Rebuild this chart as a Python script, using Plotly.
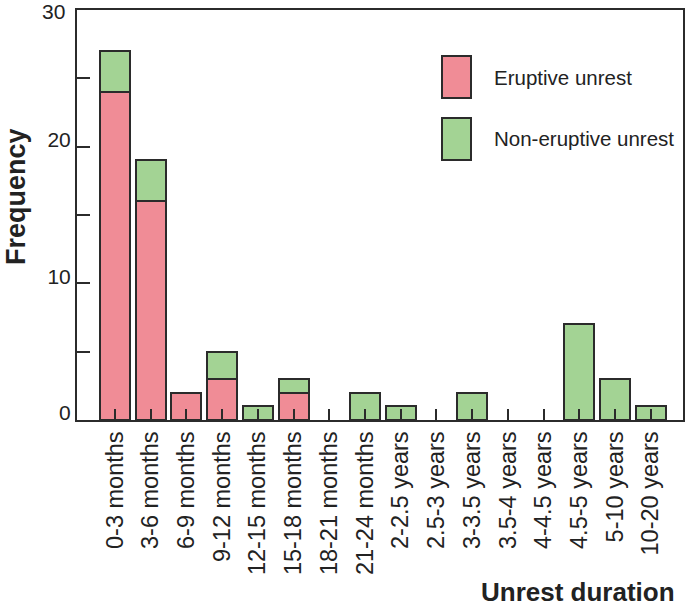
import plotly.graph_objects as go

categories = ["0-3 months", "3-6 months", "6-9 months", "9-12 months", "12-15 months",
              "15-18 months", "18-21 months", "21-24 months", "2-2.5 years", "2.5-3 years",
              "3-3.5 years", "3.5-4 years", "4-4.5 years", "4.5-5 years", "5-10 years",
              "10-20 years"]
eruptive = [24, 16, 2, 3, 0, 2, 0, 0, 0, 0, 0, 0, 0, 0, 0, 0]
non_eruptive = [3, 3, 0, 2, 1, 1, 0, 2, 1, 0, 2, 0, 0, 7, 3, 1]
y_ticks = [0, 10, 20]
y_top = 30

PINK = "#F08C96"
GREEN = "#A3D394"
EDGE = "#2b2b2b"
TXT = "#222"
FONT = "Liberation Sans, Arial, sans-serif"

W, H = 685, 612
PL, PT, PR, PB = 77, 10, 683, 420   # plot box in page pixels

def nz(v):
    return [x if x else None for x in v]

fig = go.Figure()
fig.add_trace(go.Bar(x=categories, y=nz(eruptive), name="Eruptive unrest",
                     marker=dict(color=PINK, line=dict(color=EDGE, width=2)),
                     width=0.84, showlegend=False))
fig.add_trace(go.Bar(x=categories, y=nz(non_eruptive), name="Non-eruptive unrest",
                     marker=dict(color=GREEN, line=dict(color=EDGE, width=2)),
                     width=0.84, showlegend=False))

fig.update_layout(
    barmode="stack",
    width=W, height=H,
    margin=dict(l=PL, r=W - PR, t=PT, b=H - PB, pad=0),
    plot_bgcolor="white", paper_bgcolor="white",
    font=dict(family=FONT, color=TXT),
)
fig.update_xaxes(
    type="category", range=[-1.06, 15.9], automargin=False,
    showline=True, linecolor=EDGE, linewidth=2, mirror=True,
    ticks="inside", ticklen=11, tickwidth=1.5, tickcolor=EDGE,
    tickangle=-90, tickfont=dict(size=23.5, family=FONT, color=TXT),
    showgrid=False,
)
fig.update_yaxes(
    range=[0, y_top], tickvals=y_ticks, automargin=False, ticklabeloverflow="allow",
    ticklabelshift=-7,
    showline=True, linecolor=EDGE, linewidth=2, mirror=True,
    ticks="inside", ticklen=13, tickwidth=1.5, tickcolor=EDGE,
    minor=dict(dtick=5, ticks="inside", ticklen=13, tickwidth=1.5, tickcolor=EDGE, showgrid=False),
    tickfont=dict(size=21, family=FONT, color=TXT),
    showgrid=False, zeroline=False,
)
# top tick label, kept inside the page
fig.add_annotation(xref="paper", yref="y", x=0, y=y_top, xshift=-10, yshift=-1,
                   text=str(y_top), showarrow=False, xanchor="right", yanchor="middle",
                   font=dict(size=21, family=FONT, color=TXT))

def px_x(p):
    return (p - PL) / (PR - PL)
def px_y(p):
    return (PB - p) / (PB - PT)

legend_items = [("Eruptive unrest", PINK, 56, 98), ("Non-eruptive unrest", GREEN, 118, 160)]
for label, col, top, bot in legend_items:
    fig.add_shape(type="rect", xref="paper", yref="paper",
                  x0=px_x(442), x1=px_x(471), y0=px_y(bot), y1=px_y(top),
                  fillcolor=col, line=dict(color=EDGE, width=2))
    fig.add_annotation(xref="paper", yref="paper", x=px_x(492), y=px_y((top + bot) / 2),
                       text=label, showarrow=False, xanchor="left", yanchor="middle",
                       font=dict(size=20.5, family=FONT, color=TXT))

fig.add_annotation(xref="paper", yref="paper", x=px_x(677), y=px_y(592),
                   text="<b>Unrest duration</b>", showarrow=False,
                   xanchor="right", yanchor="middle",
                   font=dict(size=26, family=FONT, color=TXT))
fig.add_annotation(xref="paper", yref="paper", x=px_x(16), y=px_y(197),
                   text="<b>Frequency</b>", showarrow=False, textangle=-90,
                   xanchor="center", yanchor="middle",
                   font=dict(size=27, family=FONT, color=TXT))

fig.write_html("out.html", config={"displayModeBar": False},
               post_script="document.body.style.margin='0';document.body.style.overflow='hidden';")
